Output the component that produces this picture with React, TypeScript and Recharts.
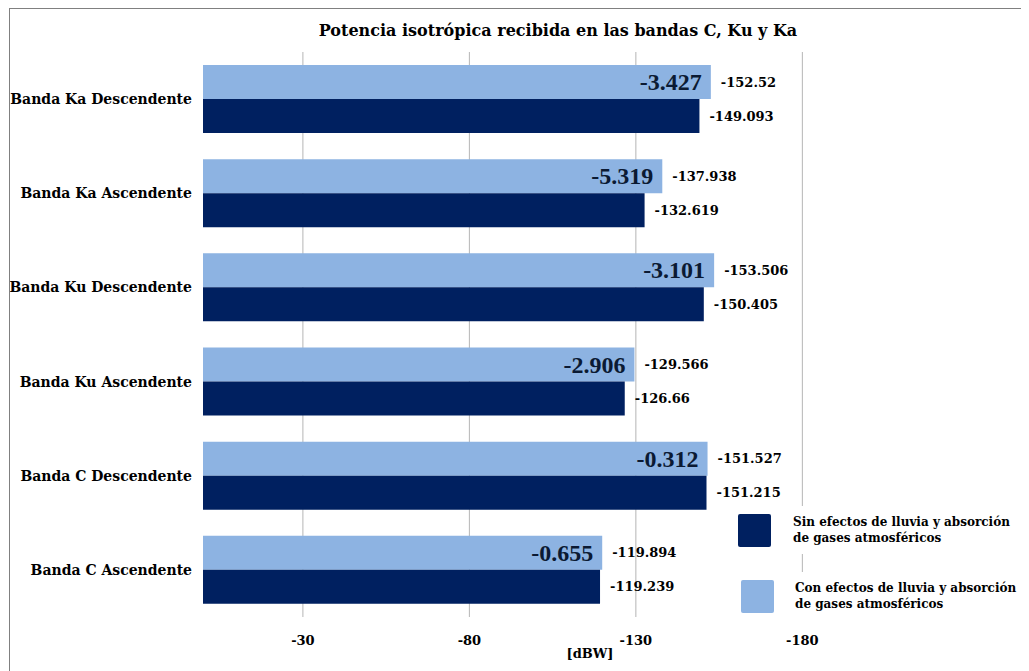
import {
  Bar,
  BarChart,
  CartesianGrid,
  LabelList,
  XAxis,
  YAxis,
} from "recharts";

const categories = [
  "Banda Ka Descendente",
  "Banda Ka Ascendente",
  "Banda Ku Descendente",
  "Banda Ku Ascendente",
  "Banda C Descendente",
  "Banda C Ascendente",
];
const conEfectos = [-152.52, -137.938, -153.506, -129.566, -151.527, -119.894];
const sinEfectos = [-149.093, -132.619, -150.405, -126.66, -151.215, -119.239];
const diferencias = [-3.427, -5.319, -3.101, -2.906, -0.312, -0.655];
const xTicks = [-30, -80, -130, -180];

const DARK = "#002060";
const LIGHT = "#8db3e2";
const FONT = "'DejaVu Serif', serif";

const data = categories.map((name, i) => ({
  name,
  con: conEfectos[i],
  sin: sinEfectos[i],
  diff: diferencias[i],
}));

const legendItems = [
  { color: DARK, lines: ["Sin efectos de lluvia y absorción", "de gases atmosféricos"] },
  { color: LIGHT, lines: ["Con efectos de lluvia y absorción", "de gases atmosféricos"] },
];

const DiffLabel = (props: any) => {
  const { x, y, width, height, value } = props;
  const right = Math.max(x, x + width);
  return (
    <text
      x={right - 9}
      y={y + height / 2}
      textAnchor="end"
      dominantBaseline="central"
      fontFamily="'Liberation Serif', serif"
      fontWeight="bold"
      fontSize={24}
      fill="#0b1a33"
    >
      {value}
    </text>
  );
};

const LegendBox = () => (
  <div
    style={{
      position: "absolute",
      left: 725,
      top: 497,
      width: 294,
      fontFamily: FONT,
      fontSize: 12,
      fontWeight: "bold",
      color: "#000",
      zIndex: 2,
    }}
  >
    {legendItems.map((item, i) => (
      <div
        key={i}
        style={{
          display: "flex",
          alignItems: "center",
          background: "#fff",
          height: 48,
          marginBottom: i === 0 ? 18 : 0,
        }}
      >
        <div
          style={{
            width: 33,
            height: 33,
            flex: "none",
            background: item.color,
            borderRadius: 2,
            marginLeft: i === 0 ? 3 : 6,
            marginRight: i === 0 ? 22 : 21,
          }}
        />
        <div style={{ lineHeight: "16px", whiteSpace: "nowrap" }}>
          {item.lines.map((l) => (
            <div key={l}>{l}</div>
          ))}
        </div>
      </div>
    ))}
  </div>
);

export default function App() {
  return (
    <div
      style={{
        position: "relative",
        width: 1020,
        height: 663,
        marginLeft: 1,
        borderTop: "1px solid #808080",
        borderLeft: "1px solid #808080",
        background: "#fff",
        overflow: "hidden",
      }}
    >
      <div
        style={{
          position: "absolute",
          top: 12,
          left: 0,
          width: 1096,
          textAlign: "center",
          fontFamily: FONT,
          fontWeight: "bold",
          fontSize: 16,
          color: "#000",
          zIndex: 2,
        }}
      >
        Potencia isotrópica recibida en las bandas C, Ku y Ka
      </div>
      <BarChart
        width={1019}
        height={660}
        data={data}
        layout="vertical"
        margin={{ top: 43, right: 210, bottom: 0, left: 0 }}
        barGap={0}
        barSize={34}
      >
        <CartesianGrid
          horizontal={false}
          stroke="#b5b5b5"
          verticalCoordinatesGenerator={({ offset }: any) =>
            xTicks.map((t) => offset.left + (t / -185) * offset.width)
          }
        />
        <XAxis
          type="number"
          domain={[-185, 0]}
          ticks={xTicks}
          reversed
          height={52}
          axisLine={false}
          tickLine={false}
          tickSize={0}
          tickMargin={19}
          tick={{ fontFamily: FONT, fontSize: 13, fontWeight: "bold", fill: "#000" }}
          label={{
            value: "[dBW]",
            position: "insideBottom",
            offset: 11,
            dx: 79,
            style: { fontFamily: FONT, fontSize: 13, fontWeight: "bold", fill: "#000" },
          }}
        />
        <YAxis
          type="category"
          dataKey="name"
          width={193}
          axisLine={false}
          tickLine={false}
          tickSize={0}
          tickMargin={11}
          tick={{ fontFamily: FONT, fontSize: 14, fontWeight: "bold", fill: "#000" }}
        />
        <Bar dataKey="con" fill={LIGHT} isAnimationActive={false}>
          <LabelList
            dataKey="con"
            position="right"
            offset={10}
            style={{ fontFamily: FONT, fontSize: 13, fontWeight: "bold", fill: "#000" }}
          />
          <LabelList dataKey="diff" content={<DiffLabel />} />
        </Bar>
        <Bar dataKey="sin" fill={DARK} isAnimationActive={false}>
          <LabelList
            dataKey="sin"
            position="right"
            offset={10}
            style={{ fontFamily: FONT, fontSize: 13, fontWeight: "bold", fill: "#000" }}
          />
        </Bar>
      </BarChart>
      <LegendBox />
    </div>
  );
}
